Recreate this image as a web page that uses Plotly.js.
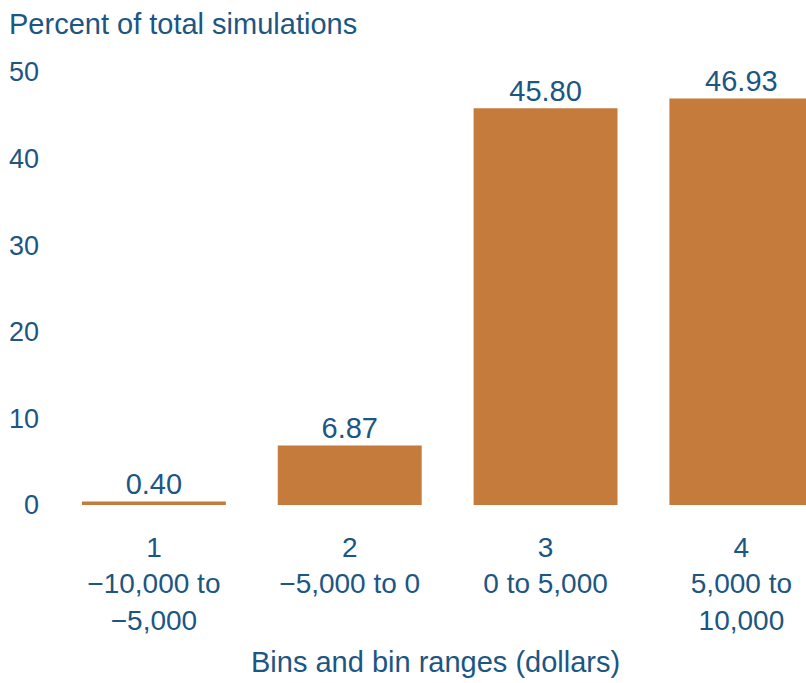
<!DOCTYPE html>
<html>
<head>
<meta charset="utf-8">
<script src="https://cdn.plot.ly/plotly-3.0.1.min.js"></script>
<style>html,body{margin:0;padding:0;background:#fff;}#chart{width:806px;height:683px;}</style>
</head>
<body>
<div id="chart"></div>
<script>
const binNumbers = ["1", "2", "3", "4"];
const binRanges = ["\u221210,000 to<br>\u22125,000", "\u22125,000 to 0", "0 to 5,000", "5,000 to<br>10,000"];
const percentValues = [0.40, 6.87, 45.80, 46.93];
const valueLabels = ["0.40", "6.87", "45.80", "46.93"];
const yTicks = [0, 10, 20, 30, 40, 50];

const textColor = "#1c5682";
const barColor = "#c47b3b";
const fontFam = "Liberation Sans, Arial, sans-serif";

const categories = binNumbers.map((n, i) => n + "<br>" + binRanges[i]);

const data = [
  {
    type: "bar",
    x: categories,
    y: percentValues,
    marker: {color: barColor},
    hoverinfo: "none",
    cliponaxis: true
  },
  {
    type: "scatter",
    mode: "text",
    x: categories,
    y: percentValues,
    text: valueLabels,
    textposition: "top center",
    textfont: {family: fontFam, size: 29, color: textColor},
    cliponaxis: false,
    hoverinfo: "none"
  }
];

const layout = {
  width: 806,
  height: 683,
  margin: {l: 56, r: 0, t: 72, b: 178},
  paper_bgcolor: "#ffffff",
  plot_bgcolor: "#ffffff",
  showlegend: false,
  bargap: 0.265,
  font: {family: fontFam, size: 27, color: textColor},
  xaxis: {
    type: "category",
    range: [-0.5, 3.33],
    showgrid: false,
    zeroline: false,
    showline: false,
    ticks: "",
    tickfont: {family: fontFam, size: 28, color: textColor},
    ticklabelstandoff: 23,
    fixedrange: true
  },
  yaxis: {
    range: [0, 50],
    tickvals: yTicks,
    ticktext: yTicks.map(String),
    showgrid: false,
    zeroline: false,
    showline: false,
    ticks: "",
    tickfont: {family: fontFam, size: 27, color: textColor},
    ticklabelstandoff: 16,
    fixedrange: true
  },
  annotations: [
    {
      text: "Percent of total simulations",
      xref: "paper", yref: "paper",
      x: -56 / 750, y: 1,
      xanchor: "left", yanchor: "middle",
      yshift: 48,
      xshift: 7,
      showarrow: false,
      font: {family: fontFam, size: 29, color: textColor}
    },
    {
      text: "Bins and bin ranges (dollars)",
      xref: "paper", yref: "paper",
      x: 0.5, y: 0,
      xanchor: "center", yanchor: "middle",
      yshift: -157,
      xshift: 4,
      showarrow: false,
      font: {family: fontFam, size: 29, color: textColor}
    }
  ]
};

Plotly.newPlot("chart", data, layout, {displayModeBar: false, staticPlot: true});
</script>
</body>
</html>
